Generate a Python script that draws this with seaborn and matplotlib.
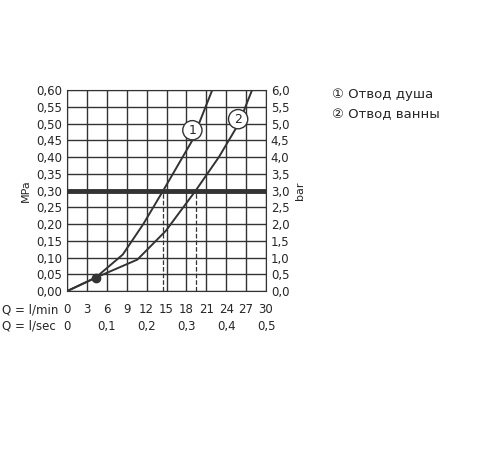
import matplotlib
matplotlib.use("Agg")
import matplotlib.pyplot as plt
import seaborn as sns
import pandas as pd

sns.set_style("white")
plt.rcParams['font.family'] = ['DejaVu Sans']

c1_q = [0, 4.3, 8.4, 11.5, 14.5, 18.9, 21.9]
c1_p = [0, 0.04, 0.109, 0.20, 0.30, 0.45, 0.60]
c2_q = [0, 4.3, 10.6, 14.9, 19.4, 22.9, 25.9, 27.9]
c2_p = [0, 0.04, 0.094, 0.18, 0.30, 0.40, 0.50, 0.60]
lmin_ticks = [0, 3, 6, 9, 12, 15, 18, 21, 24, 27, 30]
lmin_labels = ["0", "3", "6", "9", "12", "15", "18", "21", "24", "27", "30"]
lsec_ticks = [0, 6, 12, 18, 24, 30]
lsec_labels = ["0", "0,1", "0,2", "0,3", "0,4", "0,5"]
mpa_ticks = [i * 0.05 for i in range(13)]
legend = ["① Отвод душа", "② Отвод ванны"]

df = pd.concat([pd.DataFrame({"q": c1_q, "p": c1_p, "c": "1"}),
                pd.DataFrame({"q": c2_q, "p": c2_p, "c": "2"})])

fig = plt.figure(figsize=(5, 4.5), dpi=100)
ax = fig.add_axes([0.134, 0.353, 0.398, 0.447])
sns.lineplot(data=df, x="q", y="p", hue="c", palette=["#333333", "#333333"],
             legend=False, ax=ax, lw=1.4, sort=False, estimator=None)
ax.set_xlim(0, 30); ax.set_ylim(0, 0.6)
ax.set_xticks(lmin_ticks); ax.set_yticks(mpa_ticks)
ax.grid(True, color="#333333", lw=1)
ax.set_xticklabels([]); ax.tick_params(length=0)
ax.set_yticklabels([f"{v:.2f}".replace(".", ",") for v in mpa_ticks], fontsize=8.5)
for s in ax.spines.values():
    s.set_color("#333333")
ax.set_ylabel("MPa", fontsize=8)
ax.set_xlabel("")
ax.axhline(0.30, color="#333333", lw=3.5)
ax.plot([14.5, 14.5], [0, 0.30], ls="--", color="#333333", lw=0.9)
ax.plot([19.4, 19.4], [0, 0.30], ls="--", color="#333333", lw=0.9)
ax.plot([4.3], [0.04], "o", color="#333333", ms=6)
ax.text(18.9, 0.48, "1", ha="center", va="center", fontsize=9,
        bbox=dict(boxstyle="circle,pad=0.25", fc="white", ec="#333333"))
ax.text(25.8, 0.513, "2", ha="center", va="center", fontsize=9,
        bbox=dict(boxstyle="circle,pad=0.25", fc="white", ec="#333333"))
ax2 = ax.twinx()
ax2.set_ylim(0, 6)
ax2.set_yticks([i * 0.5 for i in range(13)])
ax2.set_yticklabels([f"{i*0.5:.1f}".replace(".", ",") for i in range(13)], fontsize=8.5)
ax2.tick_params(length=0)
ax2.set_ylabel("bar", fontsize=8)
for s in ax2.spines.values():
    s.set_visible(False)

def xrow(y, ticks, labels, title):
    fig.text(0.005, y, title, fontsize=8.5, va="center")
    for t, l in zip(ticks, labels):
        xf = 0.134 + 0.398 * t / 30
        fig.text(xf, y, l, fontsize=8.5, ha="center", va="center")

xrow(0.312, lmin_ticks, lmin_labels, "Q = l/min")
fig.text(0.005, 0.275, "Q = l/sec", fontsize=8.5, va="center")
for t, l in zip(lsec_ticks, lsec_labels):
    fig.text(0.134 + 0.398 * t / 30 + (0.0 if t else 0.0), 0.275, l, fontsize=8.5, ha="center", va="center")
fig.text(0.665, 0.79, legend[0], fontsize=9.5, va="center")
fig.text(0.665, 0.745, legend[1], fontsize=9.5, va="center")
fig.savefig("out.png")
